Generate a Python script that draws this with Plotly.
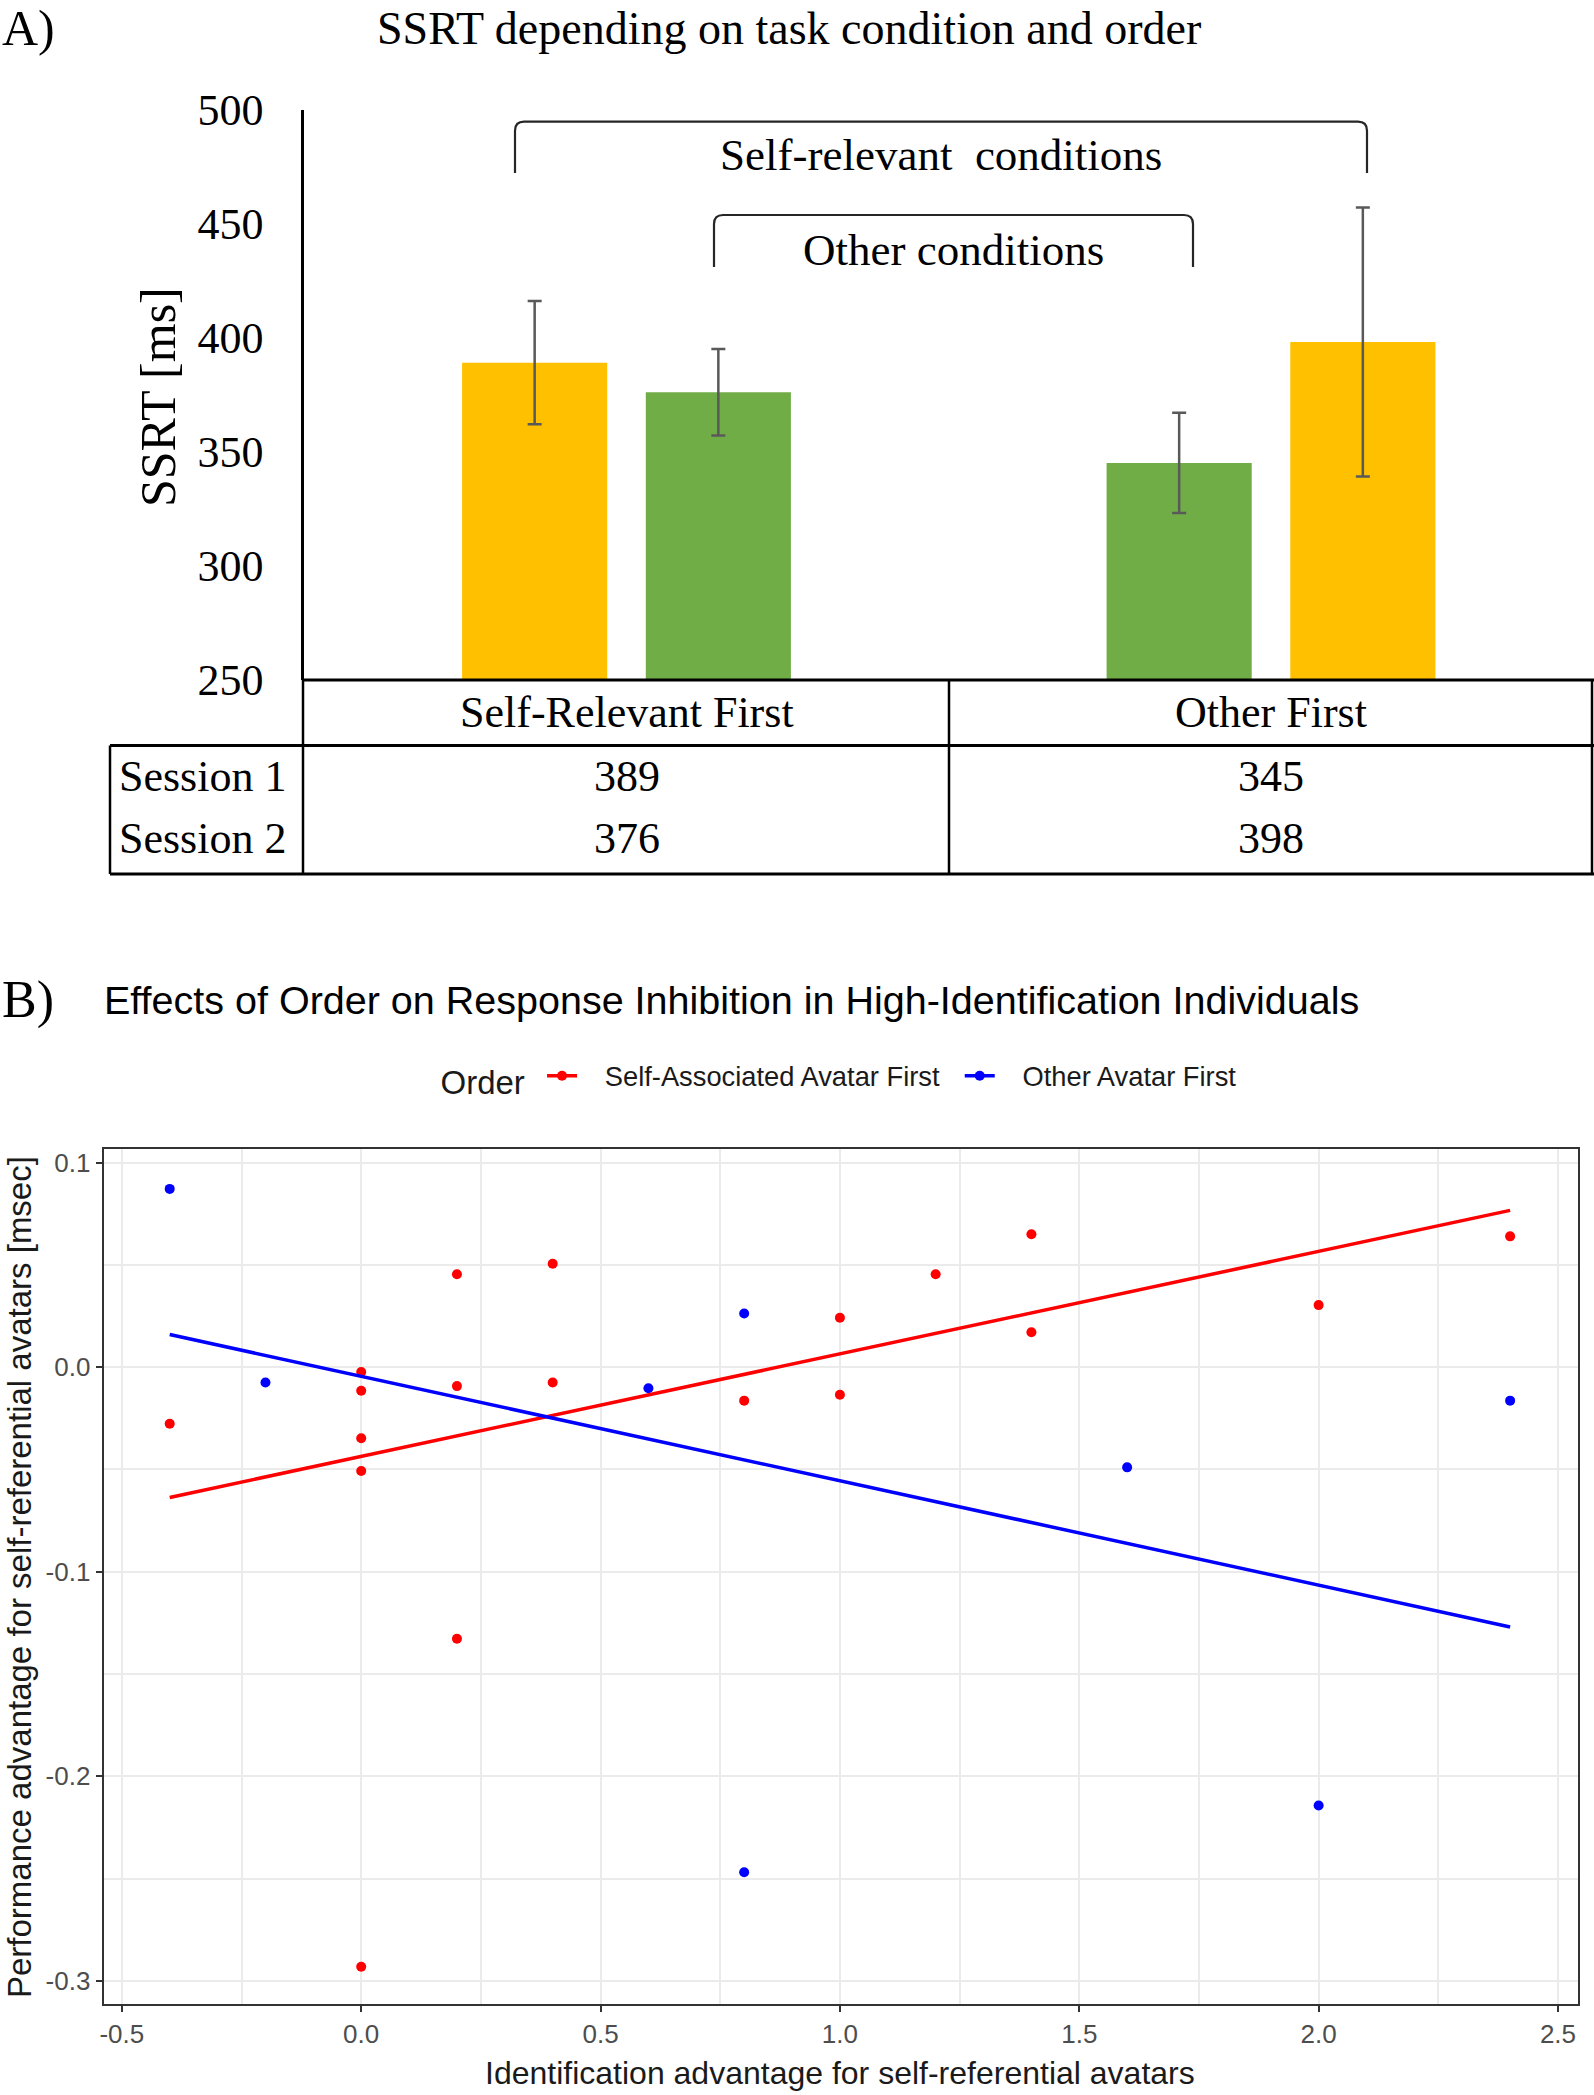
import plotly.graph_objects as go

W, H = 1594, 2095

# ---------------- Panel A data ----------------
groups = ["Self-Relevant First", "Other First"]
session_names = ["Session 1", "Session 2"]
session1_ssrt = [389, 345]
session2_ssrt = [376, 398]
session1_err = [27, 22]
session2_err = [19, 59]
session1_colors = ["#FFC000", "#70AD47"]
session2_colors = ["#70AD47", "#FFC000"]
ssrt_ticks = [250, 300, 350, 400, 450, 500]

# ---------------- Panel B data ----------------
self_first_x = [-0.4, 0.0, 0.0, 0.0, 0.0, 0.0, 0.2, 0.2, 0.2, 0.4, 0.4,
                0.8, 1.0, 1.0, 1.2, 1.4, 1.4, 2.0, 2.4]
self_first_y = [-0.0277, -0.0024, -0.0116, -0.0348, -0.0508, -0.2931,
                0.0454, -0.0093, -0.1328, 0.0505, -0.0075,
                -0.0164, 0.0241, -0.0135, 0.0454, 0.0649, 0.0170, 0.0303, 0.0639]
other_first_x = [-0.4, -0.2, 0.6, 0.8, 0.8, 1.6, 2.0, 2.4]
other_first_y = [0.0871, -0.0075, -0.0103, 0.0262, -0.2469, -0.0490, -0.2143, -0.0164]
fit_x = [-0.4, 2.4]
self_first_fit = [-0.0637, 0.0766]
other_first_fit = [0.0159, -0.1270]
b_x_ticks = [-0.5, 0.0, 0.5, 1.0, 1.5, 2.0, 2.5]
b_x_labels = ["-0.5", "0.0", "0.5", "1.0", "1.5", "2.0", "2.5"]
b_y_ticks = [-0.3, -0.2, -0.1, 0.0, 0.1]
b_y_labels = ["-0.3", "-0.2", "-0.1", "0.0", "0.1"]

SERIF = "Liberation Serif"
SANS = "Liberation Sans"


def px(x):
    return x / W


def py(y):
    return 1 - y / H


fig = go.Figure()

# Panel A bars
for name, vals, errs, cols in [
    (session_names[0], session1_ssrt, session1_err, session1_colors),
    (session_names[1], session2_ssrt, session2_err, session2_colors),
]:
    fig.add_trace(go.Bar(
        x=groups, y=vals, name=name, marker=dict(color=cols, line=dict(width=0)),
        error_y=dict(type="data", array=errs, color="#595959", thickness=2.5, width=7),
        xaxis="x", yaxis="y", showlegend=False,
    ))

# Panel B points and fit lines
fig.add_trace(go.Scatter(x=self_first_x, y=self_first_y, mode="markers",
                         marker=dict(color="#FF0000", size=10), xaxis="x2", yaxis="y2",
                         showlegend=False))
fig.add_trace(go.Scatter(x=other_first_x, y=other_first_y, mode="markers",
                         marker=dict(color="#0000FF", size=10), xaxis="x2", yaxis="y2",
                         showlegend=False))
fig.add_trace(go.Scatter(x=fit_x, y=self_first_fit, mode="lines",
                         line=dict(color="#FF0000", width=3.5), xaxis="x2", yaxis="y2",
                         showlegend=False))
fig.add_trace(go.Scatter(x=fit_x, y=other_first_fit, mode="lines",
                         line=dict(color="#0000FF", width=3.5), xaxis="x2", yaxis="y2",
                         showlegend=False))
# legend entries
fig.add_trace(go.Scatter(x=[None], y=[None], mode="lines+markers",
                         name="\u00a0\u00a0\u00a0Self-Associated Avatar First\u00a0\u00a0",
                         line=dict(color="#FF0000", width=3.5), marker=dict(color="#FF0000", size=10),
                         xaxis="x2", yaxis="y2"))
fig.add_trace(go.Scatter(x=[None], y=[None], mode="lines+markers",
                         name="\u00a0\u00a0\u00a0Other Avatar First",
                         line=dict(color="#0000FF", width=3.5), marker=dict(color="#0000FF", size=10),
                         xaxis="x2", yaxis="y2"))

shapes = []


def hline(y, x0, x1, w=3):
    shapes.append(dict(type="line", xref="paper", yref="paper", x0=px(x0), x1=px(x1),
                       y0=py(y), y1=py(y), line=dict(color="black", width=w)))


def vline(x, y0, y1, w=2.5):
    shapes.append(dict(type="line", xref="paper", yref="paper", x0=px(x), x1=px(x),
                       y0=py(y0), y1=py(y1), line=dict(color="black", width=w)))


# table lines
hline(680, 303, 1594)
hline(745.5, 110, 1594)
hline(874, 110, 1594)
vline(303, 680, 874)
vline(949, 680, 874)
vline(110, 745.5, 874)
vline(1592, 680, 874)


def bracket(l, r, t, b, rad=9):
    pts = (f"M {px(l)},{py(b)} L {px(l)},{py(t + rad)} Q {px(l)},{py(t)} {px(l + rad)},{py(t)} "
           f"L {px(r - rad)},{py(t)} Q {px(r)},{py(t)} {px(r)},{py(t + rad)} L {px(r)},{py(b)}")
    shapes.append(dict(type="path", xref="paper", yref="paper", path=pts,
                       line=dict(color="#262626", width=2.2)))


bracket(515, 1367, 121.7, 173)
bracket(714, 1193, 215, 267)

annotations = []


def ann(text, x, y, size, family=SERIF, xanchor="center", color="black", angle=0, xref="paper"):
    annotations.append(dict(text=text, x=x if xref != "paper" else px(x), y=py(y),
                            xref=xref, yref="paper", xanchor=xanchor, yanchor="middle",
                            showarrow=False, textangle=angle, borderpad=0,
                            font=dict(family=family, size=size, color=color)))


# Panel A texts
ann("A)", 1, 28, 50, xanchor="left")
ann("SSRT depending on task condition and order", 788.5, 29, 46)
ann("SSRT [ms]", 158, 397, 50, angle=-90)
ann("Self-relevant\u00a0 conditions", 941, 155, 45)
ann("Other conditions", 953, 250, 45)
for g in groups:
    ann(g, g, 712, 44, xref="x")
ann(session_names[0], 118, 776, 44, xanchor="left")
ann(session_names[1], 118, 838, 44, xanchor="left")
for g, v1, v2 in zip(groups, session1_ssrt, session2_ssrt):
    ann(str(v1), g, 776, 44, xref="x")
    ann(str(v2), g, 838, 44, xref="x")

# Panel B texts
ann("B)", 1, 1000, 52, xanchor="left")
ann("Effects of Order on Response Inhibition in High-Identification Individuals", 103, 1000, 39.5,
    family=SANS, xanchor="left", color="#000000")
ann("Identification advantage for self-referential avatars", 840, 2073, 32, family=SANS, color="#1a1a1a")
ann("Performance advantage for self-referential avatars [msec]", 19, 1577, 33, family=SANS,
    color="#1a1a1a", angle=-90)

fig.update_layout(
    width=W, height=H,
    margin=dict(l=0, r=0, t=0, b=0, autoexpand=False),
    paper_bgcolor="white", plot_bgcolor="white",
    barmode="group", bargap=0.43, bargroupgap=0.21,
    shapes=shapes, annotations=annotations,
    xaxis=dict(domain=[px(304.25), px(1593.25)], range=[-0.5, 1.5], type="category",
               showticklabels=False, showline=False, showgrid=False, zeroline=False,
               ticks="", anchor="y", automargin=False),
    yaxis=dict(domain=[py(679.5), py(109.6)], range=[250, 500], tickvals=ssrt_ticks,
               showline=True, linecolor="black", linewidth=3, ticks="", showgrid=False,
               zeroline=False, ticklabelstandoff=29, anchor="x", automargin=False,
               tickfont=dict(family=SERIF, size=44, color="black")),
    xaxis2=dict(domain=[px(103.6), px(1578)], range=[-0.5381, 2.5418],
                tickmode="array", tickvals=b_x_ticks, ticktext=b_x_labels,
                showline=True, mirror=True, linecolor="#333333", linewidth=2,
                ticks="outside", ticklen=6, tickwidth=2, tickcolor="#333333",
                showgrid=True, gridcolor="#EBEBEB", gridwidth=2.2, zeroline=False,
                minor=dict(tickmode="linear", tick0=-0.25, dtick=0.5, showgrid=True,
                           gridcolor="#EBEBEB", gridwidth=1.6, ticks=""),
                automargin=False,
                tickfont=dict(family=SANS, size=26, color="#4D4D4D"), anchor="y2"),
    yaxis2=dict(domain=[py(2004), py(1149)], range=[-0.3113, 0.1066],
                tickmode="array", tickvals=b_y_ticks, ticktext=b_y_labels,
                showline=True, mirror=True, linecolor="#333333", linewidth=2,
                ticks="outside", ticklen=6, tickwidth=2, tickcolor="#333333",
                showgrid=True, gridcolor="#EBEBEB", gridwidth=2.2, zeroline=False,
                minor=dict(tickmode="linear", tick0=-0.25, dtick=0.1, showgrid=True,
                           gridcolor="#EBEBEB", gridwidth=1.6, ticks=""),
                automargin=False,
                tickfont=dict(family=SANS, size=26, color="#4D4D4D"), anchor="x2"),
    legend=dict(orientation="h", x=px(840), xanchor="center", y=py(1078), yanchor="middle",
                title=dict(text="Order\u00a0", font=dict(family=SANS, size=33, color="#1a1a1a"), side="left"),
                font=dict(family=SANS, size=27.3, color="#1a1a1a"), bgcolor="rgba(0,0,0,0)"),
)

fig.write_html("out.html", config={"displayModeBar": False},
               post_script="document.body.style.margin='0px';")
